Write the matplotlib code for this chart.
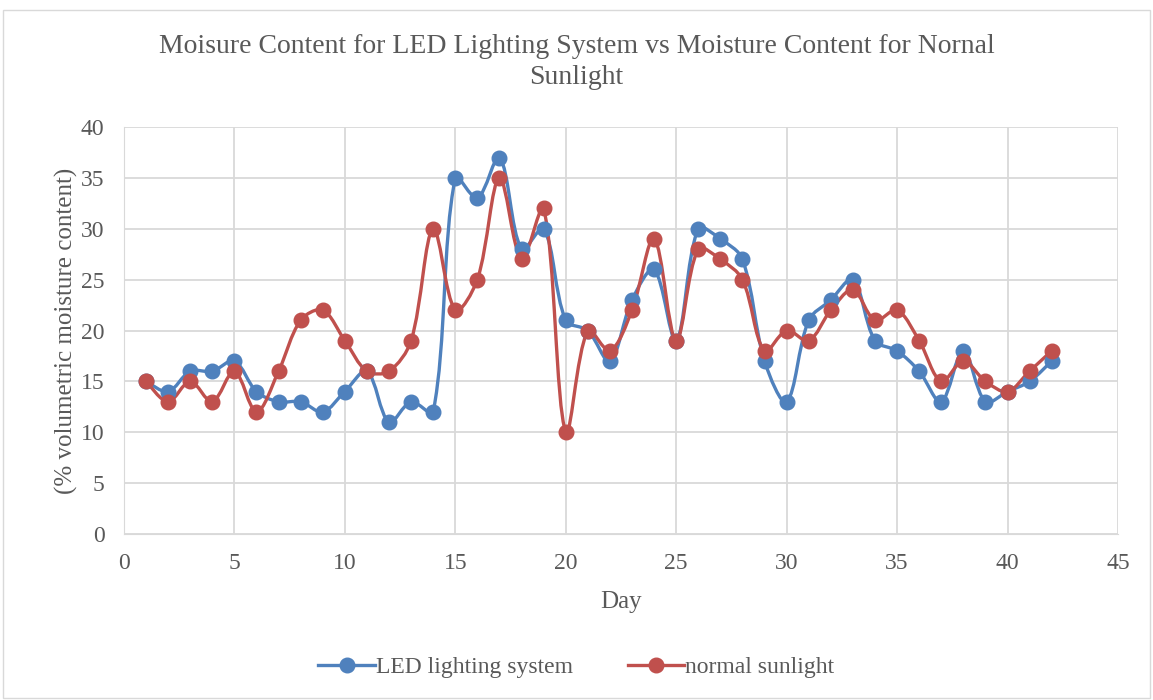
import numpy as np
import matplotlib.pyplot as plt
from matplotlib.path import Path
from matplotlib.patches import PathPatch, Rectangle
from matplotlib.lines import Line2D

plt.rcParams['font.family'] = ['Liberation Serif', 'DejaVu Serif']

days = list(range(1, 43))
led = [15, 14, 16, 16, 17, 14, 13, 13, 12, 14, 16, 11, 13, 12, 35, 33, 37, 28, 30, 21, 20,
       17, 23, 26, 19, 30, 29, 27, 17, 13, 21, 23, 25, 19, 18, 16, 13, 18, 13, 14, 15, 17]
sun = [15, 13, 15, 13, 16, 12, 16, 21, 22, 19, 16, 16, 19, 30, 22, 25, 35, 27, 32, 10, 20,
       18, 22, 29, 19, 28, 27, 25, 18, 20, 19, 22, 24, 21, 22, 19, 15, 17, 15, 14, 16, 18]

BLUE = '#4F81BD'
RED = '#C0504D'
GREY = '#595959'


def smooth_path(x, y, sx, sy):
    # Excel-like smoothed line: bezier arms weighted by segment length on screen
    x = np.asarray(x, float)
    y = np.asarray(y, float)
    n = len(x)
    pts = np.column_stack([x, y])
    scr = pts * [sx, sy]
    seg = np.hypot(*np.diff(scr, axis=0).T)
    verts = [tuple(pts[0])]
    codes = [Path.MOVETO]
    for i in range(n - 1):
        a = max(i - 1, 0)
        d = min(i + 2, n - 1)
        f0 = seg[i - 1] if i > 0 else seg[i]
        f1 = seg[i]
        f2 = seg[i + 1] if i + 1 < n - 1 else seg[i]
        c1 = pts[i] + (pts[i + 1] - pts[a]) * f1 / (3 * (f0 + f1))
        c2 = pts[i + 1] - (pts[d] - pts[i]) * f1 / (3 * (f1 + f2))
        verts += [tuple(c1), tuple(c2), tuple(pts[i + 1])]
        codes += [Path.CURVE4] * 3
    return Path(verts, codes)


fig = plt.figure(figsize=(11.53, 7), dpi=100)
fig.patches.append(Rectangle((0.003, 0.003), 0.994, 0.983, transform=fig.transFigure,
                             fill=False, edgecolor='#D9D9D9', linewidth=1))
ax = fig.add_axes([0.1075, 0.2371, 0.8621, 0.5815])
ax.set_xlim(0, 45)
ax.set_ylim(0, 40)

sx = 0.8621 * 1153 / 45
sy = 0.5815 * 700 / 40
for vals, col, lab in [(led, BLUE, 'LED lighting system'), (sun, RED, 'normal sunlight')]:
    ax.add_patch(PathPatch(smooth_path(days, vals, sx, sy), facecolor='none', edgecolor=col,
                           linewidth=2.4, zorder=3))
    ax.plot(days, vals, linestyle='none', marker='o', markersize=10.5, color=col, zorder=4, label=lab)

ax.set_xticks(range(0, 46, 5))
ax.set_yticks(range(0, 41, 5))
ax.grid(True, color='#D9D9D9', linewidth=1.3)
ax.set_axisbelow(True)
for s in ax.spines.values():
    s.set_visible(False)
ax.spines['bottom'].set_visible(True)
ax.spines['bottom'].set_color('#D9D9D9')
ax.spines['left'].set_visible(True)
ax.spines['left'].set_color('#D9D9D9')
ax.tick_params(length=0, labelsize=17, labelcolor=GREY)
ax.tick_params(axis='x', pad=14)
ax.tick_params(axis='y', pad=14)

ax.set_xlabel('Day', fontsize=18, color=GREY, labelpad=12)
ax.set_ylabel('(% volumetric moisture content)', fontsize=18, color=GREY, labelpad=2)
fig.text(0.5, 0.911, 'Moisure Content for LED Lighting System vs Moisture Content for Nornal\nSunlight',
         ha='center', va='center', fontsize=20, color=GREY, linespacing=1.3)

handles = [Line2D([], [], color=BLUE, marker='o', markersize=10.5, linewidth=2.4),
           Line2D([], [], color=RED, marker='o', markersize=10.5, linewidth=2.4)]
fig.legend(handles, ['LED lighting system', 'normal sunlight'], loc='center',
           bbox_to_anchor=(0.5, 0.047), ncol=2, frameon=False, fontsize=17,
           labelcolor=GREY, handlelength=2.4, handletextpad=0.05, columnspacing=2.3)

fig.savefig('out.png', dpi=100)
